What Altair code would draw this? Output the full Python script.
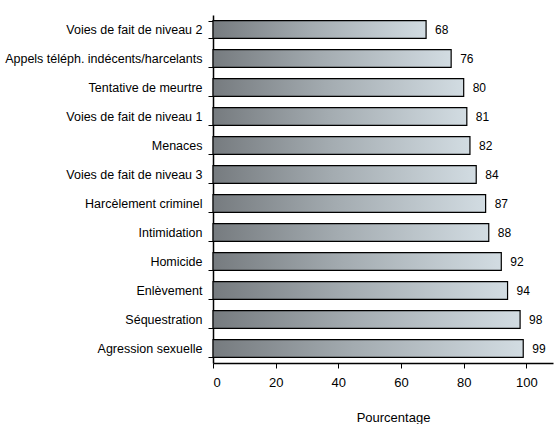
import altair as alt
import pandas as pd

categories = [
    "Voies de fait de niveau 2",
    "Appels téléph. indécents/harcelants",
    "Tentative de meurtre",
    "Voies de fait de niveau 1",
    "Menaces",
    "Voies de fait de niveau 3",
    "Harcèlement criminel",
    "Intimidation",
    "Homicide",
    "Enlèvement",
    "Séquestration",
    "Agression sexuelle",
]
values = [68, 76, 80, 81, 82, 84, 87, 88, 92, 94, 98, 99]
x_ticks = [0, 20, 40, 60, 80, 100]

df = pd.DataFrame({"cat": categories, "val": values})

FONT = "Liberation Sans"

gradient = alt.LinearGradient(
    gradient="linear",
    x1=0, x2=1, y1=0, y2=0,
    stops=[
        alt.GradientStop(color="#767b7f", offset=0),
        alt.GradientStop(color="#a3abb0", offset=0.45),
        alt.GradientStop(color="#d2dce2", offset=1),
    ],
)

y_enc = alt.Y(
    "cat:N",
    sort=categories,
    scale=alt.Scale(paddingInner=0.39, paddingOuter=0.195),
    axis=alt.Axis(
        title=None,
        tickBand="extent",
        labelFont=FONT,
        labelFontSize=12.5,
        labelColor="#000000",
        labelPadding=6,
        labelLimit=0,
        domainColor="#000000",
        domainWidth=1.5,
        tickColor="#000000",
        tickSize=5,
        tickWidth=1,
    ),
)
x_enc = alt.X(
    "val:Q",
    scale=alt.Scale(domain=[0, 108.5], nice=False),
    axis=alt.Axis(
        title="Pourcentage",
        values=x_ticks,
        grid=False,
        labelFont=FONT,
        labelFontSize=13,
        labelColor="#000000",
        labelPadding=8,
        titleFont=FONT,
        titleFontSize=13,
        titleFontWeight="normal",
        titleColor="#000000",
        titlePadding=22,
        titleX=180,
        domainColor="#000000",
        domainWidth=1.5,
        tickColor="#000000",
        tickSize=5,
        tickWidth=1,
    ),
)

bars = alt.Chart(df).mark_bar(
    color=gradient, stroke="#000000", strokeWidth=1.2, cornerRadius=0
).encode(x=x_enc, y=y_enc)

labels = alt.Chart(df).mark_text(
    align="left", baseline="middle", dx=9, font=FONT, fontSize=12, color="#000000"
).encode(x=alt.X("val:Q"), y=alt.Y("cat:N", sort=categories), text=alt.Text("val:Q"))

chart = (
    alt.layer(bars, labels)
    .properties(
        width=340,
        height=348,
        autosize=alt.AutoSizeParams(type="none"),
        padding={"left": 213, "top": 15, "right": 3, "bottom": 61},
        background="#ffffff",
    )
    .configure_view(stroke=None)
)

chart.save("out.html", embed_options={"renderer": "svg", "actions": False})
